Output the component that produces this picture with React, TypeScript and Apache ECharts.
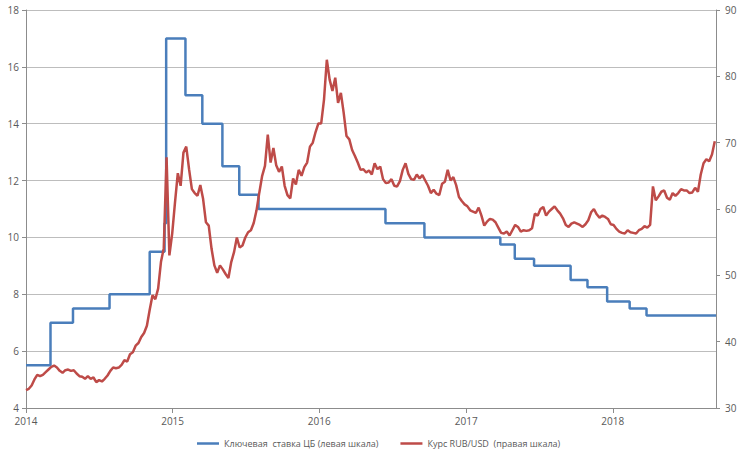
import React, { useEffect, useRef } from "react";
import * as echarts from "echarts";

// Key rate of the Central Bank (left scale), change dates and new values
const keyRateDates = [
  "2014-01-01", "2014-03-03", "2014-04-28", "2014-07-28", "2014-11-05", "2014-12-12",
  "2014-12-16", "2015-02-02", "2015-03-16", "2015-05-05", "2015-06-16", "2015-08-03",
  "2016-06-14", "2016-09-19", "2017-03-27", "2017-05-02", "2017-06-19", "2017-09-18",
  "2017-10-30", "2017-12-18", "2018-02-12", "2018-03-26", "2018-09-15",
];
const keyRateValues = [
  5.5, 7.0, 7.5, 8.0, 9.5, 10.5,
  17.0, 15.0, 14.0, 12.5, 11.5, 11.0,
  10.5, 10.0, 9.75, 9.25, 9.0, 8.5,
  8.25, 7.75, 7.5, 7.25, 7.25,
];

// RUB/USD rate (right scale), weekly samples starting 2014-01-01
const rubStart = "2014-01-01";
const rub2014 = [
  32.7, 32.9, 33.4, 34.3, 35.0,
  34.8, 35.0, 35.4, 35.8,
  36.2, 36.4, 36.1, 35.6,
  35.3, 35.7, 35.8, 35.6, 35.7,
  35.2, 34.8, 34.7, 34.4,
  34.8, 34.4, 34.6, 33.9,
  34.2, 34.0, 34.4, 34.9, 35.6,
  36.1, 36.0, 36.1, 36.5,
  37.2, 37.0, 38.1, 38.4,
  39.4, 39.8, 40.7, 41.3, 42.4,
  44.8, 47.0, 46.4, 48.0,
  52.0, 54.1, 67.8, 53.0, 56.3,
];
const rub2015 = [
  61.0, 65.4, 63.5, 68.5,
  69.4, 66.0, 63.0, 62.4,
  62.0, 63.6, 61.5, 58.0,
  57.5, 54.0, 51.5, 50.4, 51.5,
  50.9, 50.2, 49.6, 52.0,
  53.5, 55.7, 54.2, 54.5,
  55.7, 56.5, 56.8, 57.9, 59.8,
  62.5, 65.0, 66.5, 71.2,
  67.0, 69.2, 66.6, 65.6, 66.4,
  63.5, 62.1, 61.6, 64.6,
  63.7, 65.9, 65.0, 66.3,
  67.0, 69.4, 70.0, 71.6, 72.9,
];
const rub2016 = [
  72.9, 76.5, 82.5, 79.5,
  77.8, 79.8, 76.0, 77.5,
  74.5, 71.0, 70.5, 68.9, 68.0,
  67.0, 65.9, 66.0, 65.5,
  65.8, 65.2, 66.9, 66.0,
  66.4, 64.5, 63.9, 64.0, 64.5,
  63.5, 63.4, 64.2, 65.9,
  66.9, 65.3, 64.5, 64.4, 65.2,
  64.6, 65.1, 64.3, 63.5,
  62.4, 62.9, 62.3, 62.1,
  63.8, 64.1, 65.9, 64.3, 64.8,
  63.6, 61.8, 61.2, 60.7,
];
const rub2017 = [
  60.4, 59.8, 59.6, 59.4,
  60.2, 59.0, 57.5, 58.1,
  58.5, 58.4, 58.0, 57.2, 56.4,
  56.3, 56.6, 56.0, 56.8,
  57.6, 57.3, 56.6, 56.8, 56.7,
  56.8, 57.1, 59.3, 59.0,
  60.0, 60.3, 59.0, 59.6,
  60.0, 60.4, 59.8, 59.3, 58.6,
  57.6, 57.3, 57.8, 58.0,
  57.8, 57.6, 57.3, 57.7,
  58.3, 59.5, 60.0, 59.2, 58.7,
  59.0, 58.8, 58.5, 57.7,
];
const rub2018 = [
  57.6, 57.0, 56.6, 56.4, 56.3,
  56.8, 56.5, 56.4, 56.3,
  56.8, 57.0, 57.4, 57.2,
  57.6, 63.4, 61.3, 61.9,
  62.6, 62.8, 61.7, 61.4, 62.4,
  62.0, 62.4, 63.0, 62.8,
  62.8, 62.4, 62.5, 63.2,
  62.6, 65.2, 66.9, 67.5, 67.2,
  68.2, 70.2,
];

// Axis ticks
const yearTicks = ["2014-01-01", "2015-01-01", "2016-01-01", "2017-01-01", "2018-01-01"];
const xMin = "2014-01-01";
const xMax = "2018-09-15";

const legendNames = ["Ключевая  ставка ЦБ (левая шкала)", "Курс RUB/USD  (правая шкала)"];

function toTime(s: string): number {
  const [y, m, d] = s.split("-").map(Number);
  return new Date(y, m - 1, d).getTime();
}

export default function App() {
  const ref = useRef<HTMLDivElement>(null);

  useEffect(() => {
    if (!ref.current) return;
    const chart = echarts.init(ref.current, undefined, { renderer: "svg" });

    const keyData = keyRateDates.map((d, i) => [toTime(d), keyRateValues[i]]);
    const rubAll = [...rub2014, ...rub2015, ...rub2016, ...rub2017, ...rub2018];
    const [sy, sm, sd] = rubStart.split("-").map(Number);
    const rubData = rubAll.map((v, i) => [new Date(sy, sm - 1, sd + 7 * i).getTime(), v]);

    const font = "'Open Sans', 'DejaVu Sans', sans-serif";
    const labelColor = "#595959";
    const axisColor = "#8c8c8c";
    const yearValues = yearTicks.map(toTime);

    chart.setOption({
      animation: false,
      textStyle: { fontFamily: font },
      grid: { left: 26, right: 26, top: 10, bottom: 50, containLabel: false },
      legend: {
        top: 434,
        left: 192,
        icon: "rect",
        itemWidth: 22,
        itemHeight: 2.5,
        itemGap: 22,
        textStyle: { fontSize: 9, color: labelColor, fontFamily: font },
        data: legendNames,
      },
      xAxis: {
        type: "value",
        min: toTime(xMin),
        max: toTime(xMax),
        axisLine: { show: true, lineStyle: { color: axisColor, width: 1 } },
        axisTick: {
          show: true,
          length: 5,
          lineStyle: { color: axisColor },
          customValues: yearValues,
        },
        axisLabel: {
          fontSize: 10,
          color: labelColor,
          margin: 8,
          customValues: yearValues,
          formatter: (v: number) => String(new Date(v).getFullYear()),
        },
        splitLine: { show: false },
      },
      yAxis: [
        {
          type: "value",
          min: 4,
          max: 18,
          interval: 2,
          position: "left",
          axisLine: { show: true, lineStyle: { color: axisColor } },
          axisTick: { show: true, length: 4, lineStyle: { color: axisColor } },
          axisLabel: { fontSize: 10, color: labelColor, margin: 7 },
          splitLine: { show: true, lineStyle: { color: "#bdbdbd", width: 1 } },
        },
        {
          type: "value",
          min: 30,
          max: 90,
          interval: 10,
          position: "right",
          axisLine: { show: true, lineStyle: { color: axisColor } },
          axisTick: { show: true, length: 4, lineStyle: { color: axisColor } },
          axisLabel: { fontSize: 10, color: labelColor, margin: 9 },
          splitLine: { show: false },
        },
      ],
      series: [
        {
          name: legendNames[0],
          type: "line",
          step: "end",
          yAxisIndex: 0,
          data: keyData,
          showSymbol: false,
          color: "#4a7ebb",
          lineStyle: { color: "#4a7ebb", width: 2.5 },
        },
        {
          name: legendNames[1],
          type: "line",
          yAxisIndex: 1,
          data: rubData,
          showSymbol: false,
          color: "#be4b48",
          lineStyle: { color: "#be4b48", width: 2.5 },
        },
      ],
    });

    return () => chart.dispose();
  }, []);

  return (
    <div
      ref={ref}
      style={{ position: "fixed", left: 0, top: 0, width: 742, height: 458, background: "#fff" }}
    />
  );
}
